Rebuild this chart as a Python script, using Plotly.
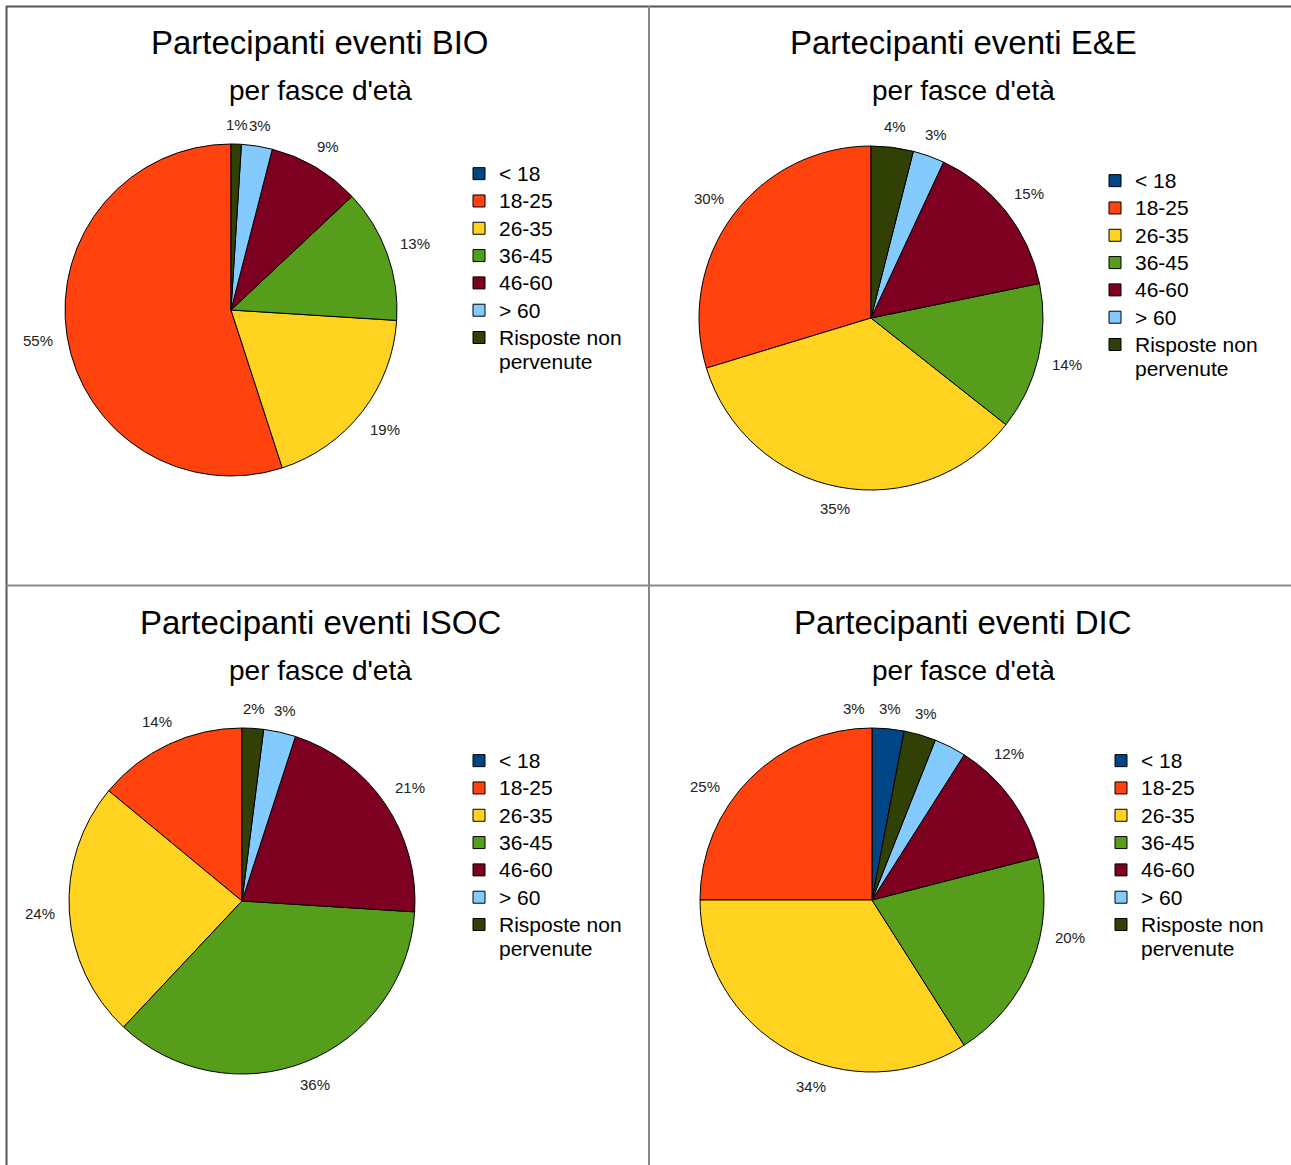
import math
import plotly.graph_objects as go

categories = ["< 18", "18-25", "26-35", "36-45", "46-60", "> 60", "Risposte non pervenute"]
colors = ["#004586", "#ff420e", "#ffd320", "#579d1c", "#7e0021", "#83caff", "#314004"]

event_names = ["BIO", "E&E", "ISOC", "DIC"]
bio_values = [0, 55, 19, 13, 9, 3, 1]
ee_values = [0, 30, 35, 14, 15, 3, 4]
isoc_values = [0, 14, 24, 36, 21, 3, 2]
dic_values = [3, 25, 34, 20, 12, 3, 3]
all_values = [bio_values, ee_values, isoc_values, dic_values]

W, H = 1291, 1165
FONT = "Liberation Sans, Arial, sans-serif"
LABEL_SIZE = 15

# layout (pixels): pie centre, radius, legend anchor, title centre
panels = [
    dict(cx=231, cy=310, r=166, lx=459, ly=155, tx=320, ty=43),
    dict(cx=871, cy=318, r=172, lx=1095, ly=162, tx=963, ty=43),
    dict(cx=242, cy=901, r=173, lx=459, ly=742, tx=320, ty=623),
    dict(cx=872, cy=900, r=172, lx=1101, ly=742, tx=963, ty=623),
]


def legend_label(c):
    parts = c.replace("Risposte non ", "Risposte non\n").split("\n")
    return "<br>".join(f'<span style="font-size:21px">{p}</span>' for p in parts)


legend_labels = [legend_label(c) for c in categories]


def label_positions(vals, p):
    """Place percentage labels outside the slices, along each slice bisector."""
    total = float(sum(vals))
    out = []
    cum = 0.0
    for v in vals:
        frac_mid = (cum + v / 2.0) / total
        cum += v
        if v == 0:
            continue
        ang = 2 * math.pi * frac_mid  # counter-clockwise from 12 o'clock
        s, c = -math.sin(ang), math.cos(ang)
        txt = f"{v}%"
        w = LABEL_SIZE * (0.556 * (len(txt) - 1) + 0.889)
        h = LABEL_SIZE * 0.75
        d = p["r"] + 14 + abs(s) * w / 2 + abs(c) * h / 2
        out.append((txt, p["cx"] + s * d, p["cy"] - c * d))
    return out


fig = go.Figure()
annotations = []
layout_legends = {}
for i, (name, vals, p) in enumerate(zip(event_names, all_values, panels)):
    lname = "legend" if i == 0 else f"legend{i+1}"
    fig.add_trace(go.Pie(
        labels=legend_labels,
        values=vals,
        textinfo="none",
        marker=dict(colors=colors, line=dict(color="#000", width=1)),
        sort=False,
        direction="counterclockwise",
        rotation=0,
        legend=lname,
        legendgroup=f"grp{i}",
        showlegend=True,
        domain=dict(x=[(p["cx"] - p["r"]) / W, (p["cx"] + p["r"]) / W],
                    y=[1 - (p["cy"] + p["r"]) / H, 1 - (p["cy"] - p["r"]) / H]),
    ))
    layout_legends[lname] = dict(
        x=p["lx"] / W, y=1 - p["ly"] / H, xanchor="left", yanchor="top",
        font=dict(family=FONT, size=18.7, color="#000"),
        bgcolor="rgba(0,0,0,0)", traceorder="normal", valign="top",
    )
    annotations.append(dict(
        text=f"Partecipanti eventi {name}", x=p["tx"] / W, y=1 - p["ty"] / H,
        xref="paper", yref="paper", showarrow=False, xanchor="center", yanchor="middle",
        font=dict(family=FONT, size=33, color="#000"),
    ))
    annotations.append(dict(
        text="per fasce d'età", x=p["tx"] / W, y=1 - (p["ty"] + 47) / H,
        xref="paper", yref="paper", showarrow=False, xanchor="center", yanchor="middle",
        font=dict(family=FONT, size=28, color="#000"),
    ))
    for txt, x, y in label_positions(vals, p):
        annotations.append(dict(
            text=txt, x=x / W, y=1 - y / H, xref="paper", yref="paper",
            showarrow=False, xanchor="center", yanchor="middle",
            font=dict(family=FONT, size=LABEL_SIZE, color="#222"),
        ))

shapes = [
    dict(type="line", xref="paper", yref="paper", x0=6 / W, x1=1, y0=1 - 6.5 / H, y1=1 - 6.5 / H,
         line=dict(color="#555", width=2)),
    dict(type="line", xref="paper", yref="paper", x0=6.5 / W, x1=6.5 / W, y0=0, y1=1 - 6 / H,
         line=dict(color="#555", width=2)),
    dict(type="line", xref="paper", yref="paper", x0=649 / W, x1=649 / W, y0=0, y1=1 - 6 / H,
         line=dict(color="#888", width=2)),
    dict(type="line", xref="paper", yref="paper", x0=6 / W, x1=1, y0=1 - 585.5 / H, y1=1 - 585.5 / H,
         line=dict(color="#888", width=2)),
]

fig.update_layout(
    width=W, height=H,
    margin=dict(l=0, r=0, t=0, b=0),
    paper_bgcolor="white", plot_bgcolor="white",
    annotations=annotations, shapes=shapes,
    **layout_legends,
)

fig.write_html("out.html", config={"displayModeBar": False},
               post_script="document.body.style.margin='0';")
